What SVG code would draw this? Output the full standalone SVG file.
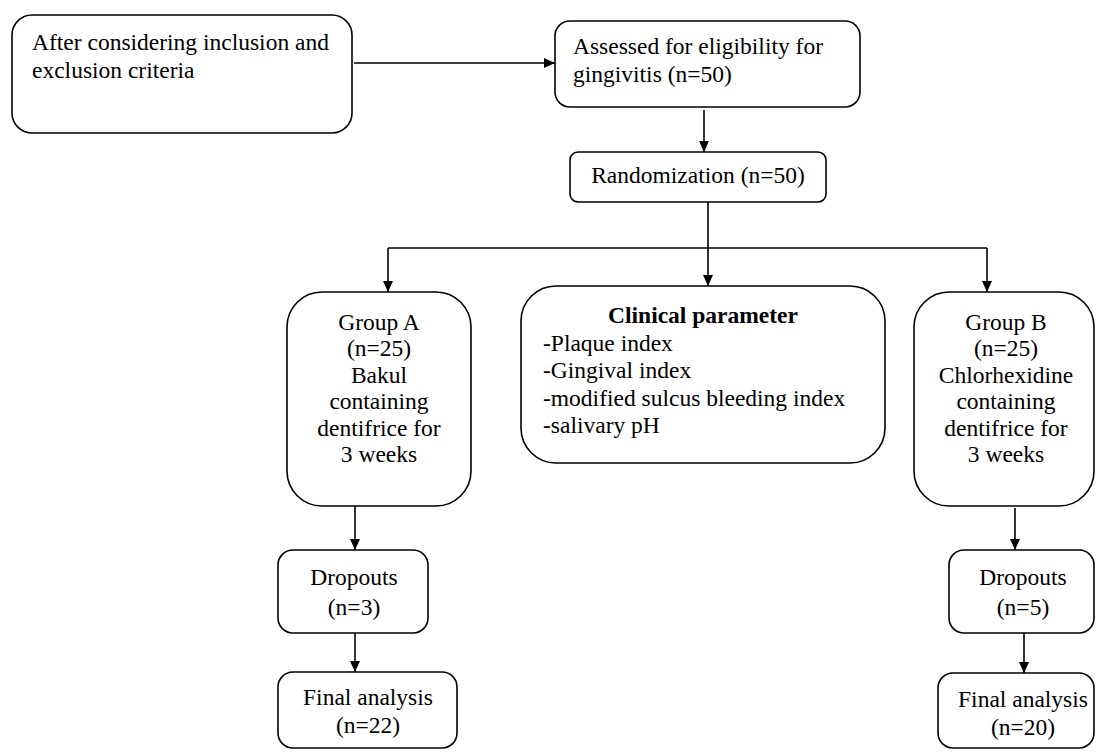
<svg xmlns="http://www.w3.org/2000/svg" width="1096" height="752" viewBox="0 0 1096 752" font-family="'Liberation Serif', 'Times New Roman', 'DejaVu Serif', serif">
<style>
.box{fill:#fff;stroke:#000;stroke-width:1.6}
.t{font-family:'Liberation Serif','Times New Roman','DejaVu Serif',serif;font-size:23.5px;fill:#000}
.c{text-anchor:middle}
.b{font-weight:bold}
.con{fill:none;stroke:#000;stroke-width:1.6}
</style>
<defs>
<marker id="ah" markerUnits="userSpaceOnUse" markerWidth="11" markerHeight="10" refX="11" refY="5" orient="auto">
<path d="M0,0 L11,5 L0,10 z" fill="#000"/>
</marker>
</defs>
<rect width="1096" height="752" fill="#fff"/>
<g id="connectors">
<path class="con" d="M354,63 H555" marker-end="url(#ah)"/>
<path class="con" d="M704,110 V152" marker-end="url(#ah)"/>
<path class="con" d="M708,202 V286" marker-end="url(#ah)"/>
<path class="con" d="M388,248 H987"/>
<path class="con" d="M388,248 V292" marker-end="url(#ah)"/>
<path class="con" d="M987,248 V292" marker-end="url(#ah)"/>
<path class="con" d="M355,506 V550" marker-end="url(#ah)"/>
<path class="con" d="M355,633 V672" marker-end="url(#ah)"/>
<path class="con" d="M1015,508 V550" marker-end="url(#ah)"/>
<path class="con" d="M1024,633 V673" marker-end="url(#ah)"/>
</g>
<g id="n-criteria">
<rect class="box" x="12" y="15" width="340" height="118" rx="20"/>
<text class="t" x="32" y="50">After considering inclusion and</text>
<text class="t" x="32" y="78">exclusion criteria</text>
</g>
<g id="n-assessed">
<rect class="box" x="555" y="21" width="305" height="86" rx="15"/>
<text class="t" x="573" y="54">Assessed for eligibility for</text>
<text class="t" x="573" y="82">gingivitis (n=50)</text>
</g>
<g id="n-random">
<rect class="box" x="570" y="152" width="256" height="50" rx="8"/>
<text class="t c" x="698" y="183">Randomization (n=50)</text>
</g>
<g id="n-groupA">
<rect class="box" x="287" y="292" width="184" height="214" rx="35"/>
<text class="t c" x="379" y="330">Group A</text>
<text class="t c" x="379" y="356">(n=25)</text>
<text class="t c" x="379" y="383">Bakul</text>
<text class="t c" x="379" y="409">containing</text>
<text class="t c" x="379" y="436">dentifrice for</text>
<text class="t c" x="379" y="462">3 weeks</text>
</g>
<g id="n-clinical">
<rect class="box" x="521" y="286" width="364" height="177" rx="35"/>
<text class="t c b" x="703" y="323">Clinical parameter</text>
<text class="t" x="543" y="351">-Plaque index</text>
<text class="t" x="543" y="378">-Gingival index</text>
<text class="t" x="543" y="406">-modified sulcus bleeding index</text>
<text class="t" x="543" y="433">-salivary pH</text>
</g>
<g id="n-groupB">
<rect class="box" x="914" y="292" width="180" height="214" rx="35"/>
<text class="t c" x="1006" y="330">Group B</text>
<text class="t c" x="1006" y="356">(n=25)</text>
<text class="t c" x="1006" y="383">Chlorhexidine</text>
<text class="t c" x="1006" y="409">containing</text>
<text class="t c" x="1006" y="436">dentifrice for</text>
<text class="t c" x="1006" y="462">3 weeks</text>
</g>
<g id="n-dropA">
<rect class="box" x="278" y="550" width="150" height="83" rx="15"/>
<text class="t c" x="354" y="585">Dropouts</text>
<text class="t c" x="354" y="615">(n=3)</text>
</g>
<g id="n-finalA">
<rect class="box" x="278" y="672" width="179" height="76" rx="15"/>
<text class="t c" x="368" y="705">Final analysis</text>
<text class="t c" x="368" y="733">(n=22)</text>
</g>
<g id="n-dropB">
<rect class="box" x="949" y="550" width="145" height="83" rx="15"/>
<text class="t c" x="1023" y="585">Dropouts</text>
<text class="t c" x="1023" y="615">(n=5)</text>
</g>
<g id="n-finalB">
<rect class="box" x="938" y="673" width="156" height="75" rx="15"/>
<text class="t c" x="1023" y="707">Final analysis</text>
<text class="t c" x="1023" y="735">(n=20)</text>
</g>
</svg>
